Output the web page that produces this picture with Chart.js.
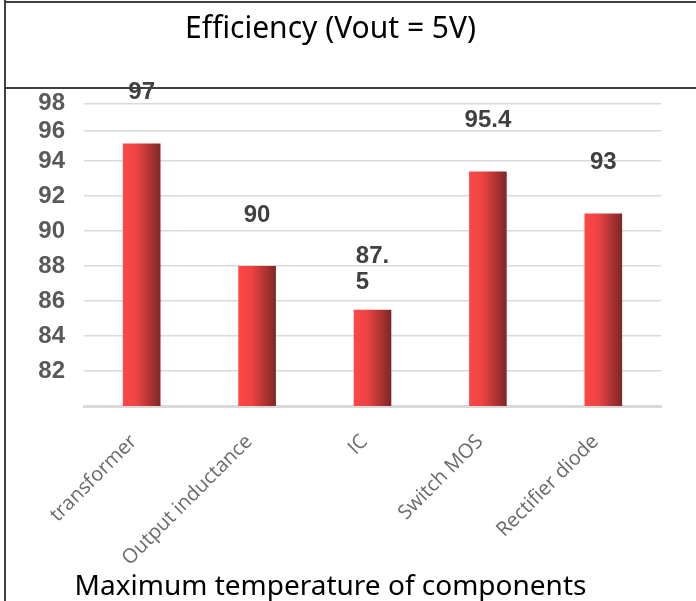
<!DOCTYPE html>
<html>
<head>
<meta charset="utf-8">
<script src="https://cdn.jsdelivr.net/npm/chart.js@4"></script>
<style>
  html, body { margin: 0; padding: 0; background: #fff; }
  #wrap { width: 696px; height: 601px; }
</style>
</head>
<body>
<div id="wrap"><canvas id="effChart" width="696" height="601"></canvas></div>
<script>
// valores
const categories = ['transformer', 'Output inductance', 'IC', 'Switch MOS', 'Rectifier diode'];
const efficiency = [97, 90, 87.5, 95.4, 93];
const yTickValues = [84, 86, 88, 90, 92, 94, 96, 97.7, 99.3];
const yTickLabels = ['82', '84', '86', '88', '90', '92', '94', '96', '98'];
const wrapLabel = [false, false, true, false, false];

const barPct = 0.326;

// moldura e linhas do quadro
const framePlugin = {
  id: 'frame',
  beforeDraw(chart) {
    const ctx = chart.ctx;
    ctx.save();
    ctx.fillStyle = '#fff';
    ctx.fillRect(0, 0, chart.width, chart.height);
    ctx.strokeStyle = '#404040';
    ctx.lineWidth = 2;
    ctx.beginPath();
    ctx.moveTo(5, 0); ctx.lineTo(5, chart.height);
    ctx.moveTo(5, 2); ctx.lineTo(chart.width, 2);
    ctx.moveTo(5, 88); ctx.lineTo(chart.width, 88);
    ctx.stroke();
    ctx.restore();
  }
};

// rótulos de valor acima das barras
const valuePlugin = {
  id: 'values',
  afterDatasetsDraw(chart) {
    const ctx = chart.ctx;
    const meta = chart.getDatasetMeta(0);
    ctx.save();
    ctx.font = 'bold 24px "Liberation Sans", Arial, sans-serif';
    ctx.fillStyle = '#404040';
    ctx.textBaseline = 'middle';
    meta.data.forEach((el, i) => {
      const txt = String(efficiency[i]);
      if (wrapLabel[i]) {
        const cut = txt.indexOf('.') + 1;
        const lines = [txt.slice(0, cut), txt.slice(cut)];
        const w = Math.max(...lines.map(l => ctx.measureText(l).width));
        ctx.textAlign = 'left';
        lines.forEach((l, k) => ctx.fillText(l, el.x - w / 2, el.y - 53 + k * 26));
      } else {
        ctx.textAlign = 'center';
        ctx.fillText(txt, el.x, el.y - 51);
      }
    });
    ctx.restore();
  }
};

new Chart(document.getElementById('effChart'), {
  type: 'bar',
  data: {
    labels: categories,
    datasets: [{
      data: efficiency,
      categoryPercentage: 1,
      barPercentage: barPct,
      backgroundColor: (c) => {
        const chart = c.chart;
        const area = chart.chartArea;
        if (!area || c.type !== 'data') return '#e04040';
        const x = chart.scales.x.getPixelForValue(c.dataIndex);
        const w = area.width / categories.length * barPct;
        const g = chart.ctx.createLinearGradient(x - w / 2, 0, x + w / 2, 0);
        g.addColorStop(0, '#ff4747');
        g.addColorStop(0.35, '#ef4343');
        g.addColorStop(1, '#7f2626');
        return g;
      }
    }]
  },
  options: {
    responsive: false,
    animation: false,
    events: [],
    layout: { padding: { left: 0, right: 35, top: 0, bottom: 0 } },
    plugins: {
      legend: { display: false },
      tooltip: { enabled: false },
      title: {
        display: true,
        text: 'Efficiency (Vout = 5V)',
        color: '#000',
        font: { family: '"Noto Sans", "Open Sans", sans-serif', size: 30, weight: 'normal', lineHeight: 1.2 },
        padding: { top: 11, bottom: 44 }
      },
      subtitle: {
        display: true,
        position: 'bottom',
        text: 'Maximum temperature of components',
        color: '#000',
        font: { family: '"Noto Sans", "Open Sans", sans-serif', size: 28, weight: 'normal', lineHeight: 1 },
        padding: { top: 3, bottom: 0 }
      }
    },
    scales: {
      x: {
        grid: { display: false },
        border: { color: '#d9d9d9', width: 3 },
        ticks: {
          color: '#6a6a6a',
          font: { family: '"Open Sans", sans-serif', size: 20 },
          minRotation: 45,
          maxRotation: 45,
          padding: 16,
          labelOffset: -8
        },
        afterFit(scale) { scale.height = 164; }
      },
      y: {
        min: 82,
        max: 100,
        border: { display: false },
        grid: { color: '#d9d9d9', lineWidth: 1.5, drawTicks: false },
        afterBuildTicks(scale) { scale.ticks = yTickValues.map(v => ({ value: v })); },
        ticks: {
          color: '#595959',
          font: { family: '"Liberation Sans", Arial, sans-serif', size: 24, weight: 'bold' },
          padding: 19,
          callback: (value, index) => yTickLabels[index]
        },
        afterFit(scale) { scale.width = 84; }
      }
    }
  },
  plugins: [framePlugin, valuePlugin]
});
</script>
</body>
</html>
